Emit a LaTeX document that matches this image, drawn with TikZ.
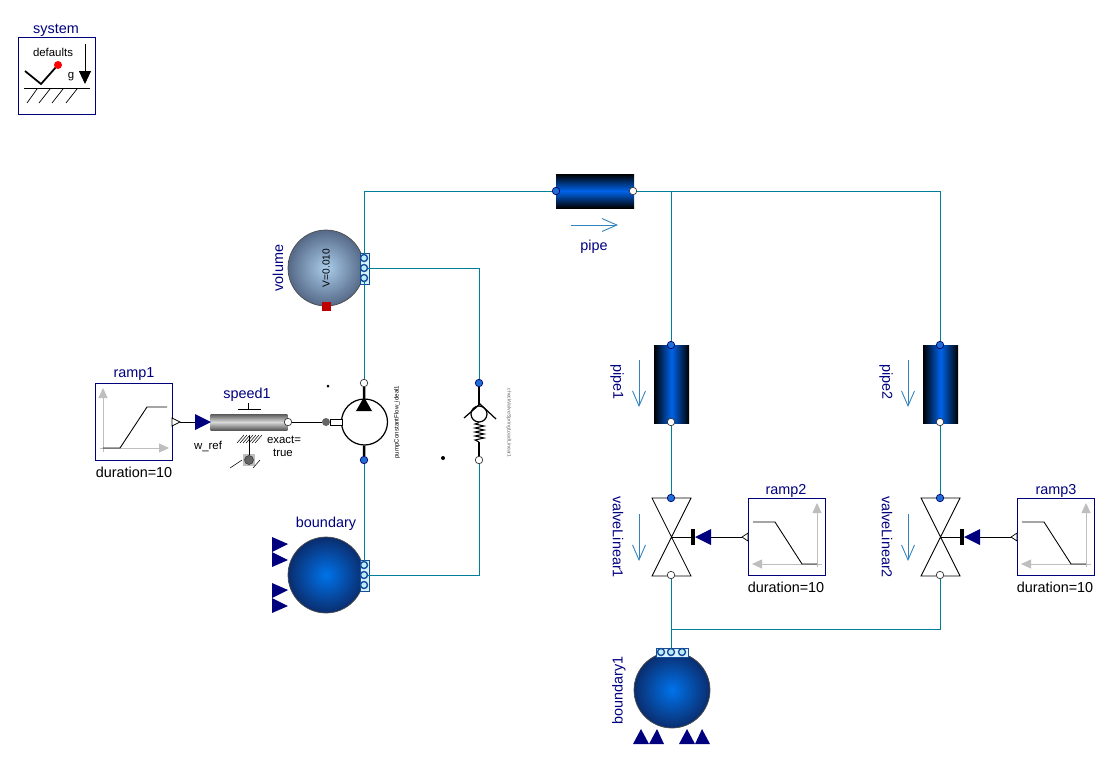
\documentclass[tikz,border=0pt]{standalone}
\usepackage{fontspec}
\setmainfont{Liberation Sans}
\usetikzlibrary{arrows.meta}
\definecolor{navyt}{RGB}{0,0,127}
\definecolor{wirec}{RGB}{0,127,155}
\definecolor{flowc}{RGB}{50,130,190}
\definecolor{portb}{RGB}{30,110,215}
\definecolor{axisc}{RGB}{190,190,190}
\tikzset{
  name label/.style={text=navyt,font=\fontsize{8.2}{9}\selectfont,inner sep=0pt},
  par label/.style={text=black,font=\fontsize{8.2}{9}\selectfont,inner sep=0pt},
  small label/.style={text=black,font=\fontsize{6.5}{7}\selectfont,inner sep=0pt},
  wire/.style={draw=wirec,line width=.45pt},
  block/.style={draw=navyt,line width=.5pt,fill=white,minimum size=1.54cm,inner sep=0pt},
  hpipe/.style={rectangle,minimum width=1.56cm,minimum height=.68cm,inner sep=0pt,top color=black,bottom color=black,middle color={rgb,255:red,0;green,100;blue,235}},
  vpipe/.style={rectangle,minimum width=.7cm,minimum height=1.56cm,inner sep=0pt,left color=black,right color=black,middle color={rgb,255:red,0;green,100;blue,235}},
  tank/.style={circle,minimum size=1.52cm,inner sep=0pt,draw=black!70,line width=.4pt,inner color={rgb,255:red,0;green,115;blue,235},outer color={rgb,255:red,10;green,45;blue,110}},
  portA/.style={circle,minimum size=.15cm,inner sep=0pt,fill=portb,draw=black!60!blue,line width=.4pt},
  portB/.style={circle,minimum size=.15cm,inner sep=0pt,fill=white,draw=black!80,line width=.4pt},
  portC/.style={circle,minimum size=.14cm,inner sep=0pt,fill=cyan!25,draw=portb!70!black,line width=.8pt},
  flow/.style={draw=flowc,line width=.5pt,-{Straight Barb[length=.3cm,width=.26cm]}},
  heavy/.style={line width=1.4pt},
  axisline/.style={draw=axisc,line width=.5pt,-{Triangle[length=.2cm,width=.18cm]}},
  navyfill/.style={fill=navyt},
}
\begin{document}
\begin{tikzpicture}[x=0.02cm,y=-0.02cm]
  \useasboundingbox (0,0) rectangle (1114,765);

  % system
  \node[block] (system) at (57,76) {};
  \node[name label] (systemname) at (56,30) {system};
  \node[small label] (defaults) at (53,52) {defaults};
  \node[small label] (gname) at (71,77) {g};
  \draw[line width=1pt] (25,71)--(41,84)--(57,66);
  \fill[red] (58,65) circle (4);
  \draw[line width=.5pt,-{Triangle[length=.26cm,width=.24cm]}] (85,44)--(85,84);
  \draw[line width=.5pt] (24,88)--(90,88);
  \draw[line width=.4pt] (27,103)--(37,89) (39,103)--(50,89) (52,103)--(63,89) (66,103)--(77,89);

  % pipes
  \node[hpipe] (pipe) at (595,191) {};
  \node[portA] (pipeA) at (556,191) {};
  \node[portB] (pipeB) at (633,191) {};
  \node[name label] (pipename) at (594,247) {pipe};
  \draw[flow] (571,225)--(618,225);

  \node[vpipe] (pipe1) at (671.5,384) {};
  \node[portA] (pipe1A) at (671,345) {};
  \node[portB] (pipe1B) at (671,422) {};
  \node[name label,rotate=-90] (pipe1name) at (617,382) {pipe1};
  \draw[flow] (639,360)--(639,407);

  \node[vpipe] (pipe2) at (940.5,384) {};
  \node[portA] (pipe2A) at (940,345) {};
  \node[portB] (pipe2B) at (940,422) {};
  \node[name label,rotate=-90] (pipe2name) at (886,382) {pipe2};
  \draw[flow] (908,360)--(908,407);

  % volume
  \node[tank,inner color={rgb,255:red,170;green,205;blue,235},outer color={rgb,255:red,85;green,105;blue,135}] (volume) at (326,268) {};
  \node[small label,rotate=90,font=\fontsize{5.8}{6}\selectfont] (volumepar) at (326,268) {V=0.010};
  \node[name label,rotate=90] (volumename) at (278,268) {volume};
  \fill[red!75!black] (322,302) rectangle (331,311);
  \draw[draw=portb!70!black,fill=cyan!15,line width=.4pt] (360,253) rectangle (369,284);
  \node[portC] (volumeA) at (364,258) {};
  \node[portC] (volumeB) at (364,268) {};
  \node[portC] (volumeC) at (364,278) {};

  % boundary
  \node[tank] (boundary) at (326,575) {};
  \node[name label] (boundaryname) at (326,524) {boundary};
  \draw[draw=portb!70!black,fill=cyan!15,line width=.4pt] (360,560) rectangle (369,591);
  \node[portC] (boundaryA) at (364,565) {};
  \node[portC] (boundaryB) at (364,575) {};
  \node[portC] (boundaryC) at (364,585) {};
  \fill[navyfill] (272,537)--(288,544)--(272,552)--(288,560)--(272,567)--cycle;
  \fill[navyfill] (272,583)--(288,590)--(272,598)--(288,606)--(272,613)--cycle;

  % boundary1
  \node[tank] (boundary1) at (672,690) {};
  \node[name label,rotate=90] (boundary1name) at (619,690) {boundary1};
  \draw[draw=portb!70!black,fill=cyan!15,line width=.4pt] (656,648) rectangle (688,657);
  \node[portC] (boundary1A) at (661,652) {};
  \node[portC] (boundary1B) at (671,652) {};
  \node[portC] (boundary1C) at (682,652) {};
  \fill[navyfill] (633,744)--(641,729)--(649,744)--(657,729)--(664,744)--cycle;
  \fill[navyfill] (679,744)--(687,729)--(695,744)--(702,729)--(710,744)--cycle;

  % pump
  \node[circle,draw,line width=.7pt,fill=white,minimum size=.92cm,inner sep=0pt] (pump) at (364.5,422) {};
  \node[portB] (pumpA) at (364,383) {};
  \node[portA] (pumpB) at (364,460) {};
  \fill (364,397)--(356,411)--(372,411)--cycle;
  \draw[heavy] (pumpA)--(pump);
  \draw[heavy] (pump)--(pumpB);
  \node[circle,fill=black!60,minimum size=.16cm,inner sep=0pt] (shaft) at (326,422) {};
  \draw[line width=.5pt,fill=white] (330,419) rectangle (342,425);
  \node[rotate=90,inner sep=0pt,font=\fontsize{3.5}{4}\selectfont] (pumpname) at (397,422) {pumpConstantFlow\_ideal1};
  \fill (328,386) circle (1.5);
  \fill (443,458) circle (2);

  % check valve
  \node[circle,draw,line width=.7pt,fill=white,minimum size=.32cm,inner sep=0pt] (check) at (479,414) {};
  \node[portA] (checkA) at (479,383) {};
  \node[portB] (checkB) at (479,460) {};
  \coordinate (springend) at (479,442);
  \draw[heavy] (checkA)--(check);
  \draw[heavy] (springend)--(checkB);
  \draw[line width=.7pt] (464,418)--(480,404)--(496,419);
  \draw[line width=.6pt] (check.south)--(475,424)--(484,426)--(475,428)--(484,430)--(475,432)--(484,434)--(475,436)--(484,438)--(475,440)--(springend);
  \node[rotate=-90,inner sep=0pt,text=black!60,font=\fontsize{2.9}{3}\selectfont] (checkname) at (509,423) {checkValveSpringLoadLinear1};

  % speed
  \node[rectangle,minimum width=1.54cm,minimum height=.32cm,inner sep=0pt,top color=black!65,bottom color=black!65,middle color=black!15] (speed1) at (249,422) {};
  \node[portB] (speed1out) at (288,422) {};
  \node[name label] (speed1name) at (247,395) {speed1};
  \node[small label] (w_ref) at (208,446) {w\_ref};
  \node[small label] (exact) at (284,440) {exact=};
  \node[small label] (exacttrue) at (283,453) {true};
  \fill[navyfill] (195,414)--(211,422)--(195,430)--cycle;
  \coordinate (speed1in) at (195,422);
  \draw[line width=.5pt] (248,403)--(248,409) (238,409)--(261,409);
  \fill[black!25] (243,454) rectangle (255,466);
  \node[circle,fill=black!60,draw=black!80,line width=.3pt,minimum size=.18cm,inner sep=0pt] (speed1fix) at (249,460) {};
  \coordinate (speed1hatch) at (249,436);
  \draw[line width=.5pt] (speed1hatch)--(speed1fix);
  \draw[line width=.3pt] (237,443)--(244,435) (240,443)--(247,435) (243,443)--(250,435) (246,443)--(253,435) (249,443)--(256,435) (252,443)--(259,435) (255,443)--(262,435);
  \draw[line width=.3pt] (230,468)--(242,460) (253,468)--(260,460);
  \draw[line width=.5pt] (shaft)--(speed1out);

  % ramp1
  \node[block] (ramp1) at (134,422) {};
  \node[name label] (ramp1name) at (134,374) {ramp1};
  \node[par label] (ramp1par) at (134,472) {duration=10};
  \draw[axisline] (103,452)--(103,388);
  \draw[axisline] (100,448)--(169,448);
  \draw[line width=.5pt] (103,448)--(120,448)--(147,407)--(167,407);
  \coordinate (ramp1out) at (180,422);
  \draw[line width=.4pt,fill=white] (172,418)--(ramp1out)--(172,426)--cycle;
  \draw[line width=.5pt] (ramp1out)--(speed1in);

  % valveLinear1
  \coordinate (valve1) at (671.5,537);
  \draw[line width=.5pt,fill=white] (652,498)--(691,498)--(valve1)--(691,576)--(652,576)--(valve1)--cycle;
  \node[portA] (valve1A) at (671,498) {};
  \node[portB] (valve1B) at (671,575) {};
  \node[name label,rotate=-90] (valve1name) at (618,537) {valveLinear1};
  \draw[flow] (639,514)--(639,561);
  \fill (691,529) rectangle (695,545);
  \fill[navyfill] (711,529)--(695,537)--(711,545)--cycle;
  \coordinate (valve1in) at (711,537);
  \coordinate (valve1bar) at (691,537);
  \draw[line width=.5pt] (valve1)--(valve1bar);

  % ramp2
  \node[block] (ramp2) at (787,537) {};
  \node[name label] (ramp2name) at (786,491) {ramp2};
  \node[par label] (ramp2par) at (786,587) {duration=10};
  \draw[axisline] (817,567)--(817,503);
  \draw[axisline] (822,564)--(752,564);
  \draw[line width=.5pt] (753,522)--(775,522)--(802,564)--(817,564);
  \coordinate (ramp2out) at (742,537);
  \draw[line width=.4pt,fill=white] (748,533)--(ramp2out)--(748,541)--cycle;
  \draw[line width=.5pt] (ramp2out)--(valve1in);

  % valveLinear2
  \coordinate (valve2) at (940.5,537);
  \draw[line width=.5pt,fill=white] (921,498)--(960,498)--(valve2)--(960,576)--(921,576)--(valve2)--cycle;
  \node[portA] (valve2A) at (940,498) {};
  \node[portB] (valve2B) at (940,575) {};
  \node[name label,rotate=-90] (valve2name) at (887,537) {valveLinear2};
  \draw[flow] (908,514)--(908,561);
  \fill (960,529) rectangle (964,545);
  \fill[navyfill] (980,529)--(964,537)--(980,545)--cycle;
  \coordinate (valve2in) at (980,537);
  \coordinate (valve2bar) at (960,537);
  \draw[line width=.5pt] (valve2)--(valve2bar);

  % ramp3
  \node[block] (ramp3) at (1056,537) {};
  \node[name label] (ramp3name) at (1056,491) {ramp3};
  \node[par label] (ramp3par) at (1055,587) {duration=10};
  \draw[axisline] (1086,567)--(1086,503);
  \draw[axisline] (1091,564)--(1021,564);
  \draw[line width=.5pt] (1022,522)--(1044,522)--(1071,564)--(1086,564);
  \coordinate (ramp3out) at (1011,537);
  \draw[line width=.4pt,fill=white] (1017,533)--(ramp3out)--(1017,541)--cycle;
  \draw[line width=.5pt] (ramp3out)--(valve2in);

  % connections
  \coordinate (topleft) at (364,191);
  \coordinate (topmid) at (671,191);
  \coordinate (topright) at (940,191);
  \coordinate (lowmid) at (671,629);
  \coordinate (lowright) at (940,629);
  \coordinate (checktop) at (479,268);
  \coordinate (checklow) at (479,575);
  \draw[wire] (pipeA)--(topleft)--(volumeA);
  \draw[wire] (volumeC)--(pumpA);
  \draw[wire] (volumeB)--(checktop)--(checkA);
  \draw[wire] (pumpB)--(boundaryA);
  \draw[wire] (boundaryB)--(checklow)--(checkB);
  \draw[wire] (pipeB)--(topright)--(pipe2A);
  \draw[wire] (topmid)--(pipe1A);
  \draw[wire] (pipe1B)--(valve1A);
  \draw[wire] (pipe2B)--(valve2A);
  \draw[wire] (valve1B)--(boundary1B);
  \draw[wire] (lowmid)--(lowright)--(valve2B);
\end{tikzpicture}
\end{document}
